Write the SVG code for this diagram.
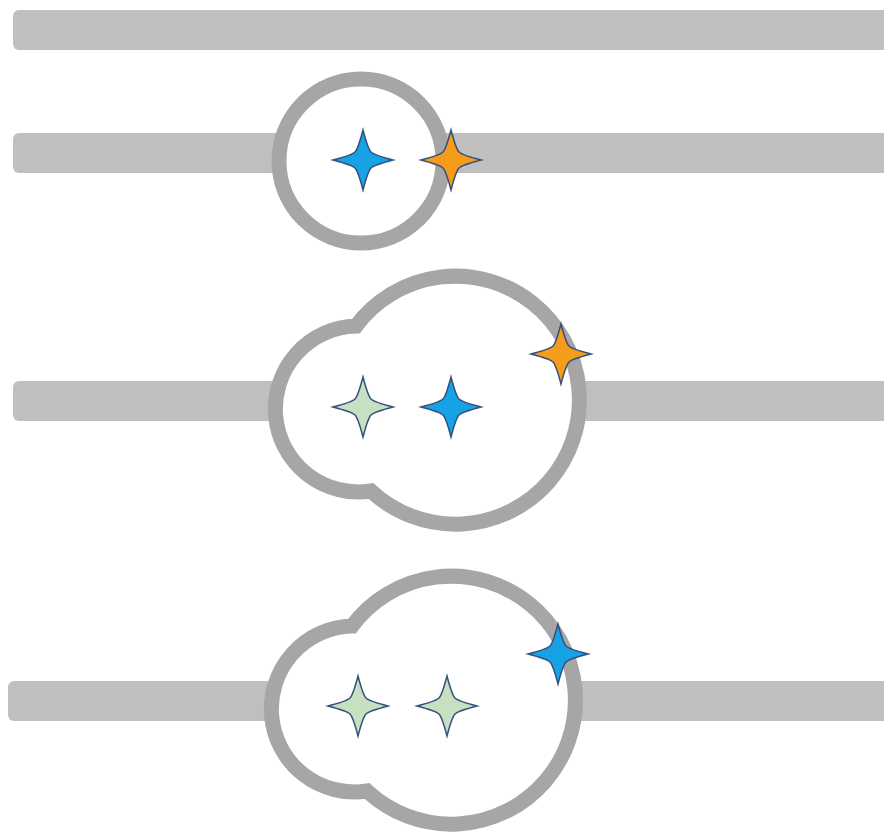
<svg xmlns="http://www.w3.org/2000/svg" width="884" height="835" viewBox="0 0 884 835">
  <defs>
    <style>
      .bar { fill: #bfbfbf; }
      .ring { fill: #ffffff; stroke: #a6a6a6; stroke-width: 15; }
      .star { stroke: #34507c; stroke-width: 1.5; stroke-linejoin: miter; }
      .blue { fill: #17a2e6; }
      .orange { fill: #f59c1a; }
      .green { fill: #c8e0c2; }
    </style>
    <path id="star" d="M0,-30 Q5,-11 8,-8 Q11,-5 30,0 Q11,5 8,8 Q5,11 0,30 Q-5,11 -8,8 Q-11,5 -30,0 Q-11,-5 -8,-8 Q-5,-11 0,-30 Z"/>
    <path id="cloud" d="M356,326 A124,124 0 1,1 371,491 A83,83 0 1,1 356,326 Z"/>
  </defs>
  <rect width="884" height="835" fill="#ffffff"/>

  <g id="bars">
    <rect class="bar" x="13" y="10" width="880" height="40" rx="6"/>
    <rect class="bar" x="13" y="133" width="880" height="40" rx="6"/>
    <rect class="bar" x="13" y="381" width="880" height="40" rx="6"/>
    <rect class="bar" x="8" y="681" width="885" height="40" rx="6"/>
  </g>

  <g id="node-circle">
    <circle class="ring" cx="361" cy="161" r="82"/>
  </g>
  <g id="node-cloud-1">
    <use href="#cloud" class="ring"/>
  </g>
  <g id="node-cloud-2">
    <use href="#cloud" class="ring" transform="translate(-4,300)"/>
  </g>

  <g id="stars">
    <use href="#star" class="star blue" x="363" y="160"/>
    <use href="#star" class="star orange" x="451" y="160"/>
    <use href="#star" class="star green" x="363" y="407"/>
    <use href="#star" class="star blue" x="451" y="407"/>
    <use href="#star" class="star orange" x="561" y="354"/>
    <use href="#star" class="star green" x="358" y="706"/>
    <use href="#star" class="star green" x="447" y="706"/>
    <use href="#star" class="star blue" x="558" y="654"/>
  </g>
</svg>
